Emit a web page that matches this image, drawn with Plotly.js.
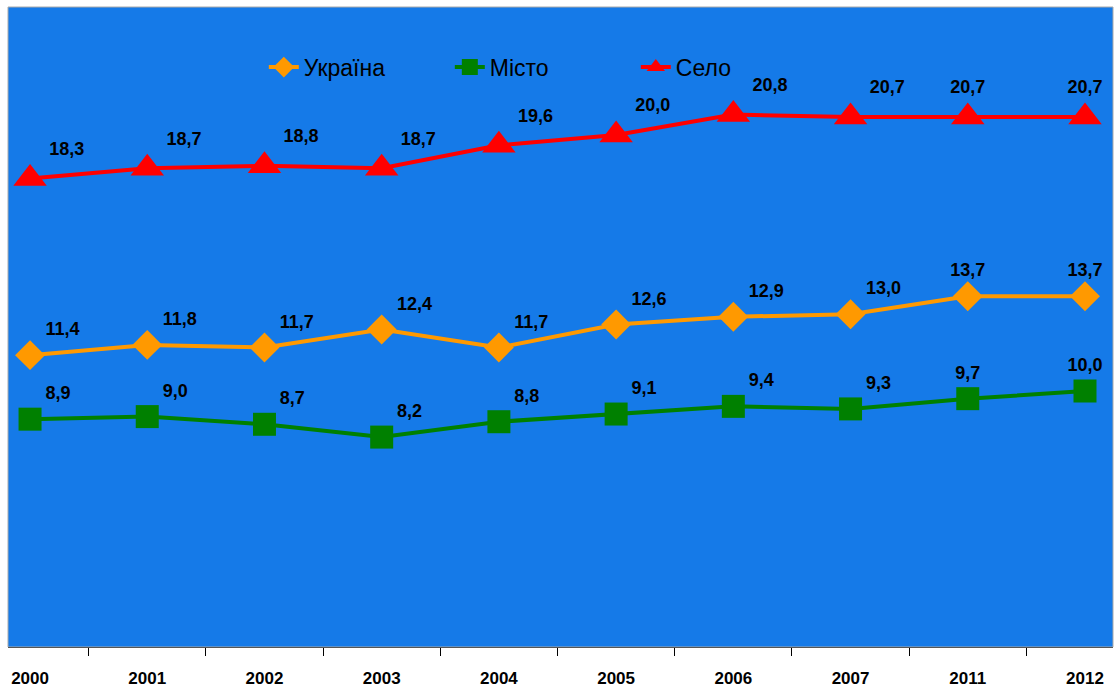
<!DOCTYPE html>
<html>
<head>
<meta charset="utf-8">
<script src="https://cdn.plot.ly/plotly-3.0.1.min.js"></script>
<style>html,body{margin:0;padding:0;background:#fff;}#chart{width:1117px;height:689px;}</style>
</head>
<body>
<div id="chart"></div>
<script>
const years = ['2000','2001','2002','2003','2004','2005','2006','2007','2011','2012'];
const ukraine = [11.4, 11.8, 11.7, 12.4, 11.7, 12.6, 12.9, 13.0, 13.7, 13.7];
const misto = [8.9, 9.0, 8.7, 8.2, 8.8, 9.1, 9.4, 9.3, 9.7, 10.0];
const selo = [18.3, 18.7, 18.8, 18.7, 19.6, 20.0, 20.8, 20.7, 20.7, 20.7];
const seriesNames = ['Україна', 'Місто', 'Село'];

const fmt = v => v.toFixed(1).replace('.', ',');
const labelFont = {family: 'Liberation Sans, Arial, sans-serif', size: 18, color: '#000', weight: 'bold'};
const positions = years.map((y, i) => i >= years.length - 2 ? 'top center' : 'top right');

function mk(name, ys, color, symbol, size) {
  return {
    type: 'scatter', mode: 'lines+markers+text', name: name,
    x: years, y: ys,
    text: ys.map(fmt), textposition: positions, textfont: labelFont,
    line: {color: color, width: 4},
    marker: {color: color, symbol: symbol, size: size},
    hoverinfo: 'skip', cliponaxis: false
  };
}

const data = [
  mk(seriesNames[0], ukraine, '#FF9900', 'diamond', 23),
  mk(seriesNames[1], misto, '#008000', 'square', 23),
  mk(seriesNames[2], selo, '#FF0000', 'triangle-up', 29)
];

const layout = {
  width: 1117, height: 689,
  margin: {l: 8, r: 4, t: 7, b: 42, pad: 0},
  paper_bgcolor: '#ffffff',
  plot_bgcolor: '#157AE8',
  showlegend: true,
  legend: {orientation: 'h', x: 0.484, xanchor: 'center', y: 0.906, yanchor: 'middle',
           bgcolor: 'rgba(0,0,0,0)', font: {family: 'Liberation Sans, Arial, sans-serif', size: 23, color: '#000'},
           entrywidth: 141, entrywidthmode: 'pixels', traceorder: 'normal'},
  xaxis: {
    type: 'category', range: [-0.188, 9.239], tickson: 'boundaries',
    ticks: 'outside', ticklen: 8, tickcolor: '#000', tickwidth: 1,
    showline: true, linecolor: '#000', linewidth: 1,
    showgrid: false, zeroline: false, ticklabelstandoff: 16,
    tickfont: {family: 'Liberation Sans, Arial, sans-serif', size: 17, color: '#000', weight: 'bold'}
  },
  yaxis: {range: [0, 25], showgrid: false, zeroline: false, showticklabels: false, ticks: '', showline: false},
  shapes: [
    {type: 'rect', xref: 'paper', yref: 'paper', x0: 0, x1: 1, y0: 0, y1: 1, line: {color: '#aaaaaa', width: 1}}
  ]
};

Plotly.newPlot('chart', data, layout, {displayModeBar: false, staticPlot: true});
</script>
</body>
</html>
